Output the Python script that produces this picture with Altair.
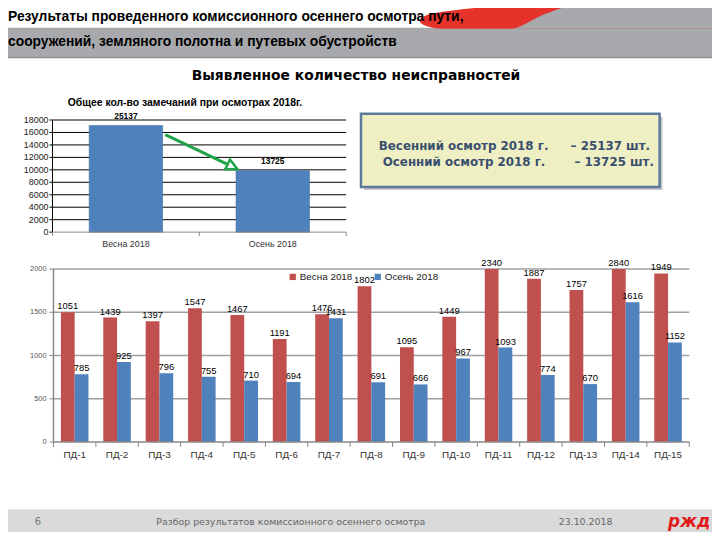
import altair as alt
import pandas as pd

# ---------------- data ----------------
districts = ["ПД-1", "ПД-2", "ПД-3", "ПД-4", "ПД-5", "ПД-6", "ПД-7", "ПД-8",
             "ПД-9", "ПД-10", "ПД-11", "ПД-12", "ПД-13", "ПД-14", "ПД-15"]
seasons = ["Весна 2018", "Осень 2018"]
spring_values = [1501, 1439, 1397, 1547, 1467, 1191, 1476, 1802, 1095, 1449, 2340, 1887, 1757, 2840, 1949]
spring_labels = ["1051", "1439", "1397", "1547", "1467", "1191", "1476", "1802", "1095", "1449",
                 "2340", "1887", "1757", "2840", "1949"]
autumn_values = [785, 925, 796, 755, 710, 694, 1431, 691, 666, 967, 1093, 774, 670, 1616, 1152]
autumn_labels = ["785", "925", "796", "755", "710", "694", "1431", "691", "666", "967",
                 "1093", "774", "670", "1616", "1152"]
big_ticks = [0, 500, 1000, 1500, 2000]

total_cats = ["Весна 2018", "Осень 2018"]
total_bar_values = [17100, 9850]
total_labels = ["25137", "13725"]
small_ticks = [0, 2000, 4000, 6000, 8000, 10000, 12000, 14000, 16000, 18000]

season_colors = ["#C0504D", "#4F81BD"]

# ---------------- helpers ----------------
OFF = 8  # page margin


def P(v):
    return v - OFF


one = pd.DataFrame({"k": [0]})
layers = []


def rect(x0, y0, x1, y1, color, **kw):
    return alt.Chart(one).mark_rect(color=color, **kw).encode(
        x=alt.value(P(x0)), x2=alt.value(P(x1)), y=alt.value(P(y0)), y2=alt.value(P(y1)))


def hline(x0, x1, y, color, w=1):
    return alt.Chart(one).mark_rule(color=color, strokeWidth=w).encode(
        x=alt.value(P(x0)), x2=alt.value(P(x1)), y=alt.value(P(y)))


def vline(x, y0, y1, color, w=1):
    return alt.Chart(one).mark_rule(color=color, strokeWidth=w).encode(
        x=alt.value(P(x)), y=alt.value(P(y0)), y2=alt.value(P(y1)))


def txt(s, x, y, size, color="#000", font="Liberation Sans", weight="normal",
        align="left", style="normal"):
    return alt.Chart(one).mark_text(
        text=s, fontSize=size, color=color, font=font, fontWeight=weight,
        align=align, baseline="middle", fontStyle=style).encode(
        x=alt.value(P(x)), y=alt.value(P(y)))


def path(points_cmd, fill=None, stroke=None, sw=0):
    # custom symbol path, size 4 -> 1 unit = 1 pixel, anchored at canvas (0,0)
    kw = dict(shape=points_cmd, size=4, opacity=1)
    if fill is not None:
        kw.update(filled=True, fill=fill)
    else:
        kw.update(filled=False)
    if stroke is not None:
        kw.update(stroke=stroke, strokeWidth=sw)
    else:
        kw.update(strokeWidth=0)
    return alt.Chart(one).mark_point(**kw).encode(x=alt.value(0), y=alt.value(0))


def fmt(x, y):
    return f"{P(x):.1f} {P(y):.1f}"


# ---------------- header ----------------
layers.append(rect(0, 25, 720, 55, "#A7A9AC"))
layers.append(hline(0, 720, 55, "#8E9093", 1.5))
layers.append(path(f"M {fmt(450, 26)} C {fmt(420, 25)} {fmt(416, 14)} {fmt(440, 10)} "
                   f"C {fmt(480, 4)} {fmt(530, 0)} {fmt(575, 0)} "
                   f"L {fmt(720, 0)} L {fmt(720, 26)} Z", fill="#E5322B"))
layers.append(path(f"M {fmt(518, 26)} C {fmt(530, 24)} {fmt(540, 14)} {fmt(557, 9)} "
                   f"C {fmt(565, 5)} {fmt(575, 3)} {fmt(590, 3)} "
                   f"L {fmt(720, 3)} L {fmt(720, 26)} Z", fill="#A7A9AC"))
HFONT = "Liberation Sans Narrow, Liberation Sans"
layers.append(txt("Результаты проведенного комиссионного осеннего осмотра пути,",
                  8, 14, 14, "#000", HFONT, "bold"))
layers.append(txt("сооружений, земляного полотна и путевых обустройств",
                  8, 39, 14, "#000", HFONT, "bold"))

layers.append(txt("Выявленное количество неисправностей", 360, 74, 14, "#000",
                  "DejaVu Sans", "bold", "center"))

# ---------------- small chart ----------------
SX0, SX1, SY0, SY1 = 53, 350, 231.7, 118.3
sx = alt.Scale(domain=total_cats, range=[P(SX0), P(SX1)], paddingInner=0.5, paddingOuter=0.25)
sy = alt.Scale(domain=[0, 18000], range=[P(SY0), P(SY1)], nice=False, zero=True)
small_df = pd.DataFrame({"cat": total_cats, "val": total_bar_values, "lab": total_labels})
sticks_df = pd.DataFrame({"t": small_ticks, "lab": [str(t) for t in small_ticks]})

layers.append(alt.Chart(sticks_df[sticks_df.t > 0]).mark_rule(color="#000", strokeWidth=1).encode(
    y=alt.Y("t:Q", scale=sy, axis=None), x=alt.value(P(SX0)), x2=alt.value(P(SX1))))
layers.append(alt.Chart(sticks_df).mark_rule(color="#000", strokeWidth=1).encode(
    y=alt.Y("t:Q", scale=sy, axis=None), x=alt.value(P(SX0 - 3)), x2=alt.value(P(SX0))))
layers.append(alt.Chart(sticks_df).mark_text(align="right", baseline="middle", fontSize=9,
                                             color="#222", font="Liberation Sans").encode(
    y=alt.Y("t:Q", scale=sy, axis=None), x=alt.value(P(SX0 - 4)), text="lab:N"))
layers.append(alt.Chart(small_df).mark_bar(color="#4F81BD", stroke="#3F6C9E", strokeWidth=0.6).encode(
    x=alt.X("cat:N", scale=sx, axis=None),
    y=alt.Y("val:Q", scale=sy, axis=None)))
layers.append(alt.Chart(small_df).mark_text(baseline="middle", dy=-10, fontSize=8.5, fontWeight="bold",
                                            color="#000", font="Liberation Sans").encode(
    x=alt.X("cat:N", scale=sx, axis=None),
    y=alt.Y("val:Q", scale=sy, axis=None), text="lab:N"))
layers.append(alt.Chart(small_df).mark_text(baseline="middle", fontSize=9, color="#333",
                                            font="Liberation Sans").encode(
    x=alt.X("cat:N", scale=sx, axis=None), y=alt.value(P(244)), text="cat:N"))
layers.append(hline(SX0, SX1, SY0, "#888", 1))
layers.append(vline(SX0, SY1, SY0, "#000", 1))
for xx in (SX0, (SX0 + SX1) / 2, SX1):
    layers.append(vline(xx, SY0, SY0 + 4, "#888", 1))
layers.append(txt("Общее кол-во замечаний при осмотрах 2018г.", 187, 101, 10.5, "#000",
                  "Liberation Sans", "bold", "center"))

# green arrow
ax0, ay0, ax1, ay1 = 167, 133, 240, 168
dx, dy = ax1 - ax0, ay1 - ay0
ln = (dx * dx + dy * dy) ** 0.5
ux, uy = dx / ln, dy / ln
hl, hw = 11, 5.5
bx, by = ax1 - hl * ux, ay1 - hl * uy
layers.append(path(f"M {fmt(ax0, ay0)} L {fmt(bx, by)}", stroke="#22A34A", sw=3))
layers.append(path(f"M {fmt(ax1, ay1)} L {fmt(bx - hw * uy, by + hw * ux)} "
                   f"L {fmt(bx + hw * uy, by - hw * ux)} Z", fill="#FFFFFF", stroke="#22A34A", sw=2.5))

# ---------------- info box ----------------
layers.append(rect(368, 115, 670, 189, "#9A9A9A", opacity=0.55))
layers.append(rect(365, 112, 667, 186, "#EEEFC3", stroke="#5D7A9C", strokeWidth=2.5))
BOXC = "#3A4F6E"
layers.append(txt("Весенний осмотр 2018 г.", 383, 145, 12, BOXC, "DejaVu Sans", "bold"))
layers.append(txt("– 25137 шт.", 577, 145, 12, BOXC, "DejaVu Sans", "bold"))
layers.append(txt("Осенний осмотр 2018 г.", 387, 161, 12, BOXC, "DejaVu Sans", "bold"))
layers.append(txt("– 13725 шт.", 581, 161, 12, BOXC, "DejaVu Sans", "bold"))

# ---------------- big chart ----------------
BX0, BX1, BY0, BY1 = 54, 697, 444, 269
bxs = alt.Scale(domain=districts, range=[P(BX0), P(BX1)], paddingInner=0.35, paddingOuter=0.175)
bys = alt.Scale(domain=[0, 2000], range=[P(BY0), P(BY1)], nice=False, zero=True, clamp=True)
rows = []
for i, d in enumerate(districts):
    rows.append({"d": d, "s": seasons[0], "v": spring_values[i], "lab": spring_labels[i]})
    rows.append({"d": d, "s": seasons[1], "v": autumn_values[i], "lab": autumn_labels[i]})
big_df = pd.DataFrame(rows)
bticks_df = pd.DataFrame({"t": big_ticks, "lab": [str(t) for t in big_ticks]})
dist_df = pd.DataFrame({"d": districts})

layers.append(alt.Chart(bticks_df[bticks_df.t > 0]).mark_rule(color="#A0A0A0", strokeWidth=1.5).encode(
    y=alt.Y("t:Q", scale=bys, axis=None), x=alt.value(P(BX0)), x2=alt.value(P(BX1))))
layers.append(alt.Chart(bticks_df).mark_rule(color="#888", strokeWidth=1).encode(
    y=alt.Y("t:Q", scale=bys, axis=None), x=alt.value(P(BX0 - 4)), x2=alt.value(P(BX0))))
layers.append(alt.Chart(bticks_df).mark_text(align="right", baseline="middle", fontSize=7.5,
                                             color="#555", font="Liberation Sans").encode(
    y=alt.Y("t:Q", scale=bys, axis=None), x=alt.value(P(BX0 - 7)), text="lab:N"))
layers.append(alt.Chart(big_df).mark_bar().encode(
    x=alt.X("d:N", scale=bxs, axis=None),
    xOffset=alt.XOffset("s:N", scale=alt.Scale(domain=seasons)),
    y=alt.Y("v:Q", scale=bys, axis=None),
    color=alt.Color("s:N", scale=alt.Scale(domain=seasons, range=season_colors),
                    legend=alt.Legend(orient="none", legendX=P(291), legendY=P(272),
                                      direction="horizontal", title=None, symbolType="square",
                                      symbolSize=40, symbolStrokeWidth=0, labelFontSize=10,
                                      labelFont="Liberation Sans", labelColor="#222",
                                      columnPadding=20, padding=0, labelOffset=2))))
layers.append(alt.Chart(big_df).mark_text(baseline="middle", dy=-6, fontSize=9.5, color="#000",
                                          font="Liberation Sans").encode(
    x=alt.X("d:N", scale=bxs, axis=None),
    xOffset=alt.XOffset("s:N", scale=alt.Scale(domain=seasons)),
    y=alt.Y("v:Q", scale=bys, axis=None), text="lab:N"))
layers.append(alt.Chart(dist_df).mark_text(baseline="middle", fontSize=10, color="#333",
                                           font="Liberation Sans").encode(
    x=alt.X("d:N", scale=bxs, axis=None), y=alt.value(P(457)), text="d:N"))
layers.append(alt.Chart(dist_df).mark_rule(color="#888", strokeWidth=1, xOffset=-7.5).encode(
    x=alt.X("d:N", scale=bxs, axis=None, bandPosition=0), y=alt.value(P(BY0)), y2=alt.value(P(BY0 + 5))))
layers.append(vline(BX1, BY0, BY0 + 5, "#888", 1))
layers.append(hline(BX0, BX1, BY0, "#888", 1.5))
layers.append(vline(BX0, BY1, BY0, "#888", 1.5))

# ---------------- footer ----------------
layers.append(rect(0, 512, 720, 540, "#DADADA"))
layers.append(txt("6", 35, 525, 10, "#777", "DejaVu Sans"))
layers.append(txt("Разбор результатов комиссионного осеннего осмотра", 158, 525, 9.5, "#666", "DejaVu Sans"))
layers.append(txt("23.10.2018", 565, 525, 9.5, "#666", "DejaVu Sans"))
layers.append(txt("ржд", 697, 525, 17, "#E21A1A", "DejaVu Sans", "bold", "center", "italic"))

chart = alt.layer(*layers).resolve_scale(
    x="independent", y="independent", xOffset="independent"
).properties(
    width=712, height=524, padding=0, autosize="none", background="#FFFFFF"
).configure_view(strokeWidth=0)

chart.save("out.html", embed_options={"renderer": "svg", "actions": False})
